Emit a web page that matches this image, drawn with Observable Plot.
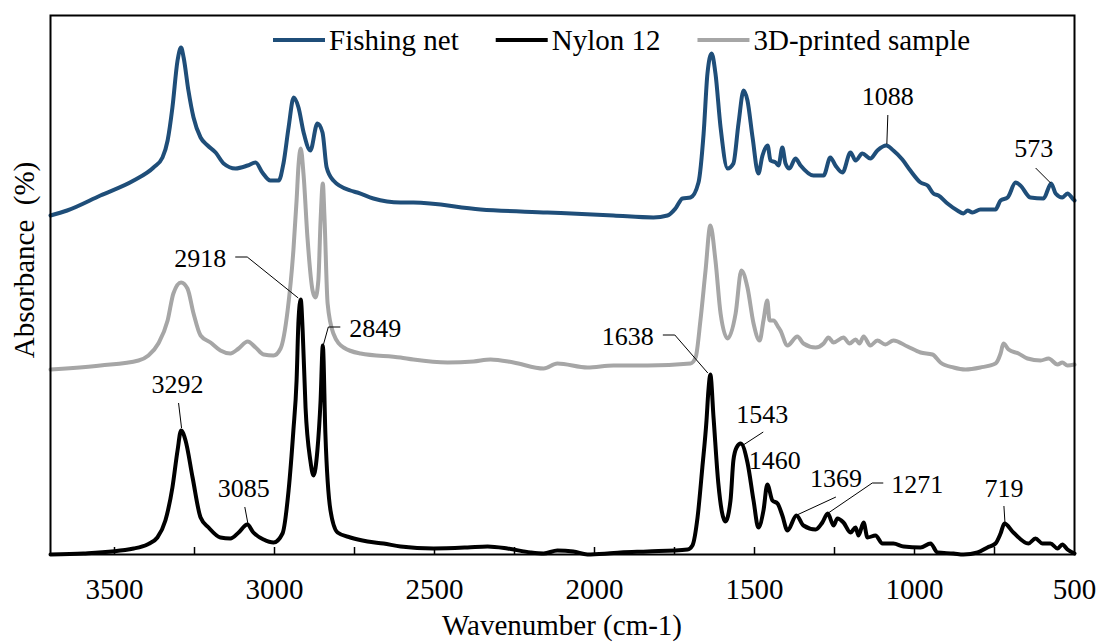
<!DOCTYPE html>
<html>
<head>
<meta charset="utf-8">
<script src="https://cdn.jsdelivr.net/npm/d3@7"></script>
<script src="https://cdn.jsdelivr.net/npm/@observablehq/plot@0.6"></script>
<style>
  html, body { margin: 0; padding: 0; background: #fff; }
  #chart svg { display: block; }
</style>
</head>
<body>
<div id="chart"></div>
<script>
// FTIR spectra, [wavenumber (cm-1), absorbance (offset, a.u.)]
const fishingNet = [
  [3700,67.8],[3648,68.8],[3544,71.8],[3440,74.8],[3378,77.4],[3350,79.4],[3334,82.8],[3319,89.4],[3303,98.8],[3292,101.4],
  [3284,99.4],[3269,92.8],[3253,87.4],[3231,83.4],[3209,81.8],[3184,80.4],[3159,78.2],[3122,77.2],[3084,77.8],[3059,78.4],
  [3038,76.4],[3013,74.8],[2987,74.8],[2972,78.2],[2956,85.4],[2940,91.4],[2925,89.4],[2909,84.4],[2888,80.8],[2866,86.2],
  [2850,84.4],[2837,77.4],[2816,74.8],[2763,72.8],[2741,72.4],[2691,71.2],[2606,70.4],[2566,70.4],[2356,69.0],[2147,68.4],
  [1941,67.8],[1816,67.4],[1772,67.8],[1747,69.2],[1725,71.2],[1700,71.4],[1675,74.4],[1659,84.2],[1647,96.2],[1634,100.2],
  [1622,96.2],[1606,85.4],[1584,77.2],[1566,78.2],[1550,86.2],[1534,92.8],[1522,90.8],[1506,83.4],[1488,76.2],[1475,79.8],
  [1459,81.8],[1450,78.8],[1434,78.4],[1425,77.8],[1413,81.4],[1403,78.2],[1391,77.2],[1372,79.2],[1356,77.8],[1316,75.8],
  [1284,75.8],[1263,79.4],[1247,77.8],[1225,76.4],[1200,80.4],[1184,78.8],[1163,80.2],[1138,79.2],[1116,80.8],[1088,81.8],
  [1066,80.8],[1038,79.0],[1013,76.8],[981,74.4],[959,73.8],[941,72.2],[925,71.8],[897,70.2],[866,68.8],[847,68.2],
  [834,68.8],[819,68.4],[794,69.0],[747,69.0],[731,70.8],[709,71.4],[684,74.4],[669,73.8],[638,71.4],[597,71.2],
  [573,74.2],[559,72.2],[538,71.4],[522,72.2],[506,71.2],[500,70.8]
];

const nylon12 = [
  [3700,0],[3597,0.2],[3440,1.2],[3397,2.0],[3366,3.4],[3341,6.8],[3319,13.4],[3303,20.8],[3292,24.8],[3278,22.8],
  [3256,15.4],[3231,7.4],[3206,5.4],[3169,3.4],[3138,3.2],[3112,4.4],[3085,6.0],[3066,4.4],[3034,3.0],[3003,2.4],
  [2975,4.2],[2956,12.8],[2941,24.8],[2931,34.8],[2925,46.8],[2918,51.0],[2912,44.8],[2903,29.4],[2888,18.8],[2878,15.8],
  [2866,20.8],[2856,30.8],[2849,41.8],[2841,24.2],[2825,8.8],[2803,4.4],[2763,3.4],[2709,2.6],[2659,2.2],[2606,1.6],
  [2503,1.2],[2397,1.4],[2334,1.6],[2272,1.2],[2200,0.4],[2159,0.2],[2116,0.8],[2066,0.6],[2022,0],[1959,0.2],
  [1919,0.4],[1834,0.6],[1709,1.0],[1694,1.8],[1678,7.4],[1663,17.4],[1650,26.8],[1644,32.8],[1638,36.0],[1628,27.4],
  [1613,14.2],[1591,6.6],[1575,10.8],[1566,18.8],[1556,21.4],[1543,22.2],[1522,18.4],[1503,10.8],[1488,5.4],[1472,8.8],
  [1460,14.0],[1444,10.8],[1428,10.2],[1413,7.8],[1397,4.8],[1369,7.8],[1347,5.8],[1309,5.0],[1288,6.4],[1271,8.2],
  [1253,5.8],[1241,7.2],[1222,6.4],[1200,4.4],[1184,5.4],[1175,3.8],[1159,6.4],[1147,3.4],[1122,3.8],[1100,2.2],
  [1066,2.2],[1034,1.6],[981,1.4],[950,2.2],[928,0.4],[878,0.2],[847,0],[803,0.4],[772,1.4],[747,2.2],
  [731,4.2],[719,6.2],[691,4.4],[644,2.2],[622,3.2],[600,2.2],[575,2.2],[553,1.2],[538,2.0],[522,1.0],[500,0.2]
];

const printedSample = [
  [3700,37.0],[3544,37.8],[3425,38.8],[3394,39.8],[3363,42.2],[3334,46.8],[3316,52.2],[3292,54.4],[3272,53.2],[3253,48.2],
  [3231,43.8],[3200,42.4],[3169,40.8],[3138,40.2],[3112,41.2],[3084,42.6],[3059,41.4],[3034,40.0],[3003,39.8],[2981,41.2],
  [2959,48.8],[2941,60.8],[2931,70.8],[2925,77.8],[2918,81.2],[2909,75.8],[2897,63.4],[2881,52.8],[2872,51.4],[2863,54.8],
  [2856,66.8],[2849,74.2],[2844,67.8],[2834,50.2],[2816,44.2],[2784,41.4],[2731,40.2],[2606,39.4],[2566,39.0],[2459,38.4],
  [2378,38.6],[2325,39.0],[2253,38.4],[2159,37.2],[2116,38.2],[2022,37.4],[1941,37.8],[1834,37.8],[1700,38.2],[1684,39.4],
  [1669,46.8],[1653,56.8],[1638,65.8],[1622,58.8],[1606,48.2],[1584,43.2],[1559,48.2],[1541,56.8],[1522,53.4],[1503,46.2],
  [1484,42.8],[1472,46.8],[1460,50.8],[1453,46.8],[1441,46.8],[1425,45.4],[1419,44.8],[1397,41.8],[1366,43.6],[1347,42.2],
  [1309,41.4],[1284,42.2],[1269,43.4],[1253,42.4],[1222,43.4],[1203,42.2],[1184,43.0],[1172,42.2],[1159,43.6],[1138,41.8],
  [1116,42.8],[1091,42.0],[1066,42.8],[1022,41.6],[981,40.4],[944,40.0],[919,38.4],[878,37.4],[841,37.0],[794,37.4],
  [747,38.2],[731,40.2],[722,42.2],[706,41.0],[675,40.2],[647,39.2],[606,38.8],[581,39.2],[553,38.0],[538,38.4],
  [522,37.8],[500,38.0]
];

// Labelled band positions (cm-1)
const nylonPeaks = [3292, 3085, 2918, 2849, 1638, 1543, 1460, 1369, 1271, 719];
const fishingNetPeaks = [1088, 573];

const seriesNames = ["Fishing net", "Nylon 12", "3D-printed sample"];
const seriesColors = ["#1f4e79", "#000000", "#a6a6a6"];

const xTickLabels = [3500, 3000, 2500, 2000, 1500, 1000, 500];
const xTickMarks = [3500, 3250, 3000, 2750, 2500, 2250, 2000, 1750, 1500, 1250, 1000, 750];

const xLabel = "Wavenumber (cm-1)";
const yLabel = "Absorbance  (%)";

// ---- layout ----
const W = 1098, H = 644;
const M = {top: 15, right: 24, bottom: 90, left: 50};
const serif = "'Liberation Serif', 'Times New Roman', Times, serif";
const lineW = 4;

const spectrum = (data, color) =>
  Plot.line(data, {x: d => d[0], y: d => d[1], stroke: color, strokeWidth: lineW,
                   curve: "monotone-x", strokeLinejoin: "round", strokeLinecap: "round"});

const chart = Plot.plot({
  width: W, height: H,
  marginTop: M.top, marginRight: M.right, marginBottom: M.bottom, marginLeft: M.left,
  style: {fontFamily: serif, background: "#fff", color: "#000", overflow: "visible"},
  x: {domain: [3700, 500]},
  y: {domain: [0, 107.8], axis: null},
  marks: [
    spectrum(fishingNet, seriesColors[0]),
    spectrum(printedSample, seriesColors[2]),
    spectrum(nylon12, seriesColors[1]),
    // inward tick marks along the wavenumber axis
    Plot.tickX(xTickMarks, {x: d => d, stroke: "#000", strokeWidth: 1.5,
                            insetTop: H - M.top - M.bottom - 7}),
    Plot.axisX(xTickLabels, {tickSize: 0, tickPadding: 24, fontSize: 29, fontFamily: serif,
                             tickFormat: d => String(d), label: null}),
    Plot.frame({stroke: "#000", strokeWidth: 2})
  ]
});

document.getElementById("chart").appendChild(chart);

const xs = chart.scale("x"), ys = chart.scale("y");
const svg = d3.select(chart);
const g = svg.append("g").attr("font-family", serif).attr("fill", "#000");

// axis titles
g.append("text")
  .attr("x", (M.left + W - M.right) / 2).attr("y", 635)
  .attr("text-anchor", "middle").attr("font-size", 29)
  .text(xLabel);
g.append("text")
  .attr("transform", "translate(34,260) rotate(-90)")
  .attr("text-anchor", "middle").attr("font-size", 29)
  .style("white-space", "pre")
  .text(yLabel);

// legend along the top of the frame
{
  let x = 273;
  const y = 40;
  seriesNames.forEach((name, i) => {
    g.append("line").attr("x1", x).attr("x2", x + 52).attr("y1", y).attr("y2", y)
      .attr("stroke", seriesColors[i]).attr("stroke-width", 4);
    const t = g.append("text").attr("x", x + 56).attr("y", y + 9.5)
      .attr("text-anchor", "start").attr("font-size", 29).text(name);
    x += 56 + t.node().getComputedTextLength() + 37;
  });
}

// peak labels with leader lines (offsets in px from the peak)
const nylonLayout = {
  3292: {dx: -3, dy: -37, leader: [[-2, -27], [1, -2]]},
  3085: {dx: -3, dy: -27, leader: [[-2, -17], [1, -1]]},
  2918: {dx: -100, dy: -32, leader: [[-65, -42], [-53, -42], [-2, -1]]},
  2849: {dx: 53, dy: -8, leader: [[18, -18], [6, -18], [1, 0]]},
  1638: {dx: -82, dy: -29, leader: [[-47, -39], [-35, -39], [-2, -1]]},
  1543: {dx: 22, dy: -20, leader: [[23, -11], [3, 2]]},
  1460: {dx: 8, dy: -15},
  1369: {dx: 40, dy: -28, leader: [[40, -18], [1, 0]]},
  1271: {dx: 90, dy: -20, leader: [[56, -30], [45, -30], [1, 0]]},
  719:  {dx: 0, dy: -26, leader: [[0, -17], [1, -1]]}
};
const fishingLayout = {
  1088: {dx: 2, dy: -40, leader: [[2, -30], [1, -1]]},
  573:  {dx: -17, dy: -26, leader: [[-15, -15], [0, 0]]}
};

function annotate(series, peaks, layout) {
  for (const wn of peaks) {
    const a = series.find(d => d[0] === wn)[1];
    const px = xs.apply(wn), py = ys.apply(a);
    const L = layout[wn];
    g.append("text").attr("x", px + L.dx).attr("y", py + L.dy)
      .attr("text-anchor", "middle").attr("font-size", 26).text(String(wn));
    if (L.leader) {
      g.append("path")
        .attr("d", d3.line()(L.leader.map(([u, v]) => [px + u, py + v])))
        .attr("fill", "none").attr("stroke", "#000").attr("stroke-width", 1);
    }
  }
}
annotate(nylon12, nylonPeaks, nylonLayout);
annotate(fishingNet, fishingNetPeaks, fishingLayout);
</script>
</body>
</html>
